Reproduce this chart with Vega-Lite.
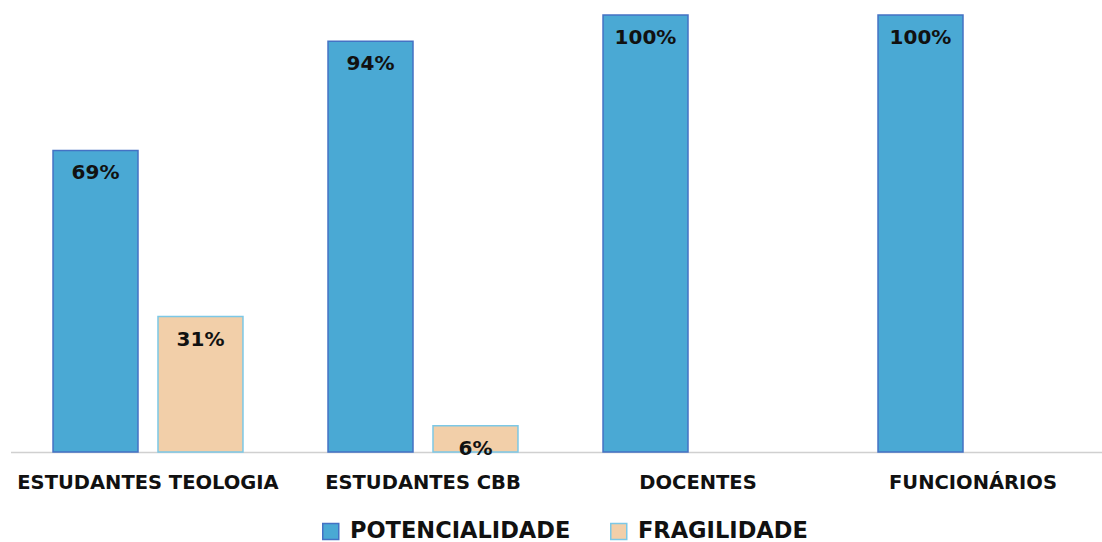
{
  "$schema": "https://vega.github.io/schema/vega-lite/v6.json",
  "width": 1100,
  "height": 437,
  "autosize": {"type": "none"},
  "padding": {"left": 10.5, "top": 15, "right": 0, "bottom": 90},
  "background": "white",
  "config": {"view": {"stroke": null}, "font": "DejaVu Sans"},
  "data": {
    "values": [
      {"grupo": "ESTUDANTES TEOLOGIA", "serie": "POTENCIALIDADE", "valor": 0.69},
      {"grupo": "ESTUDANTES TEOLOGIA", "serie": "FRAGILIDADE", "valor": 0.31},
      {"grupo": "ESTUDANTES CBB", "serie": "POTENCIALIDADE", "valor": 0.94},
      {"grupo": "ESTUDANTES CBB", "serie": "FRAGILIDADE", "valor": 0.06},
      {"grupo": "DOCENTES", "serie": "POTENCIALIDADE", "valor": 1.0},
      {"grupo": "FUNCIONÁRIOS", "serie": "POTENCIALIDADE", "valor": 1.0}
    ]
  },
  "encoding": {
    "x": {
      "field": "grupo", "type": "nominal", "sort": null,
      "scale": {"paddingInner": 0, "paddingOuter": 0},
      "axis": {"title": null, "labelAngle": 0, "labelFontSize": 19.5, "labelFontWeight": "bold", "labelColor": "#111", "labelPadding": 21, "ticks": false, "domainColor": "#D0D0D0", "domainWidth": 1.5, "labelLimit": 400}
    },
    "xOffset": {
      "field": "serie", "type": "nominal",
      "sort": ["POTENCIALIDADE", "FRAGILIDADE"],
      "scale": {"paddingInner": 0.1905, "paddingOuter": 0.405}
    },
    "y": {
      "field": "valor", "type": "quantitative",
      "scale": {"domain": [0, 1], "nice": false},
      "axis": null
    }
  },
  "layer": [
    {
      "mark": {"type": "bar", "strokeWidth": 1.5},
      "encoding": {
        "color": {
          "field": "serie", "type": "nominal",
          "sort": ["POTENCIALIDADE", "FRAGILIDADE"],
          "scale": {"domain": ["POTENCIALIDADE", "FRAGILIDADE"], "range": ["#4AA9D4", "#F2CFA9"]},
          "legend": {
            "title": null, "orient": "none", "direction": "horizontal",
            "legendX": 309, "legendY": 505,
            "labelFontSize": 22.5, "labelFontWeight": "bold", "labelColor": "#111", "labelLimit": 400,
            "symbolType": "square", "symbolSize": 256, "symbolStrokeWidth": 1.5,
            "columnPadding": 37, "labelOffset": 8
          }
        },
        "stroke": {
          "field": "serie", "type": "nominal",
          "scale": {"domain": ["POTENCIALIDADE", "FRAGILIDADE"], "range": ["#4472C4", "#7CC8E6"]},
          "legend": null
        }
      }
    },
    {
      "mark": {"type": "text", "baseline": "middle", "dy": 23, "fontSize": 20, "fontWeight": "bold", "color": "#111"},
      "encoding": {
        "text": {"field": "valor", "type": "quantitative", "format": ".0%"}
      }
    }
  ]
}
